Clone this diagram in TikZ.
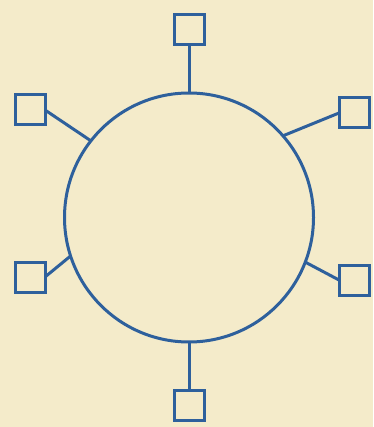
\documentclass[tikz,border=0pt]{standalone}
\usepackage{tikz}
\usetikzlibrary{positioning}
\definecolor{inkblue}{RGB}{46,96,156}
\definecolor{paper}{RGB}{244,235,202}
\tikzset{
    ring/.style={circle, draw=inkblue, line width=3pt, minimum size=249pt, inner sep=0pt, outer sep=0pt},
    station/.style={rectangle, draw=inkblue, line width=3pt, minimum size=30pt, inner sep=0pt, outer sep=0pt},
    link/.style={draw=inkblue, line width=3pt}
}
\begin{document}
\begin{tikzpicture}[x=1pt, y=-1pt]
    \fill[paper] (0,0) rectangle (373,427);
    \useasboundingbox (0,0) rectangle (373,427);
    % Nodes
    \node[ring] (R) at (189,217.5) {};
    \node[station] (T) at (189,30) {};
    \node[station] (UL) at (30,110) {};
    \node[station] (UR) at (354,113) {};
    \node[station] (LL) at (30,277) {};
    \node[station] (LR) at (354,280) {};
    \node[station] (B) at (189,405) {};

    % edges
    \draw[link] (T.south) -- (R.90);
    \draw[link] (UL.east) -- (R.142.5);
    \draw[link] (UR.west) -- (R.41.8);
    \draw[link] (LL.east) -- (R.198);
    \draw[link] (LR.west) -- (R.339.4);
    \draw[link] (B.north) -- (R.270);
\end{tikzpicture}
\end{document}
